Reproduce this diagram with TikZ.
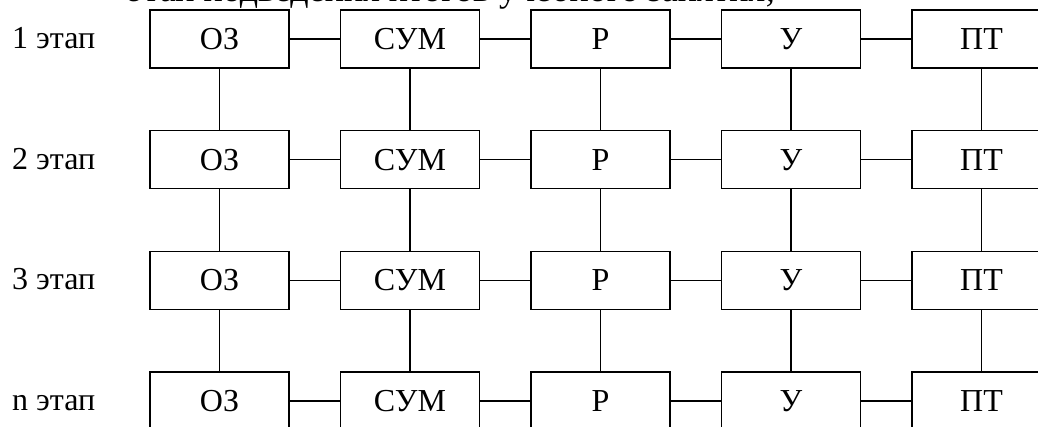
\documentclass[tikz,border=0pt]{standalone}
\usepackage{fontspec}
\setmainfont{Liberation Serif}
\usepackage{tikz}

\tikzset{
  blok/.style={draw, line width=1.5pt, minimum width=139pt, minimum height=58pt, inner sep=0pt},
  etap/.style={anchor=base west, inner sep=0pt},
  svyaz/.style={line width=1.5pt}
}

\begin{document}
\begin{tikzpicture}[x=1pt, y=-1pt, font=\fontsize{32}{36}\selectfont]

\clip (0,0) rectangle (1038,426);
\useasboundingbox (0,0) rectangle (1038,426);

% --- Title (cut at the top) ---
\node[anchor=base west, inner sep=0pt, font=\fontsize{36}{40}\selectfont] (zag) at (128,1) {этап подведения итогов учебного занятия;};

% --- Stage labels ---
\node[etap] (st1) at (12,48.5) {1 этап};
\node[etap] (st2) at (12,169.2) {2 этап};
\node[etap] (st3) at (12,289.8) {3 этап};
\node[etap] (st4) at (12,410.5) {n этап};

% --- Row 1 ---
\node[blok] (oz1) at (219.5,39) {ОЗ};
\node[blok] (sum1) at (410,39) {СУМ};
\node[blok] (r1) at (600.5,39) {Р};
\node[blok] (u1) at (791,39) {У};
\node[blok] (pt1) at (981.5,39) {ПТ};

% --- Row 2 ---
\node[blok] (oz2) at (219.5,159.7) {ОЗ};
\node[blok] (sum2) at (410,159.7) {СУМ};
\node[blok] (r2) at (600.5,159.7) {Р};
\node[blok] (u2) at (791,159.7) {У};
\node[blok] (pt2) at (981.5,159.7) {ПТ};

% --- Row 3 ---
\node[blok] (oz3) at (219.5,280.3) {ОЗ};
\node[blok] (sum3) at (410,280.3) {СУМ};
\node[blok] (r3) at (600.5,280.3) {Р};
\node[blok] (u3) at (791,280.3) {У};
\node[blok] (pt3) at (981.5,280.3) {ПТ};

% --- Row n ---
\node[blok] (oz4) at (219.5,401) {ОЗ};
\node[blok] (sum4) at (410,401) {СУМ};
\node[blok] (r4) at (600.5,401) {Р};
\node[blok] (u4) at (791,401) {У};
\node[blok] (pt4) at (981.5,401) {ПТ};

% horizontal links
\draw[svyaz] (oz1) -- (sum1) (sum1) -- (r1) (r1) -- (u1) (u1) -- (pt1)
(oz2) -- (sum2) (sum2) -- (r2) (r2) -- (u2) (u2) -- (pt2)
(oz3) -- (sum3) (sum3) -- (r3) (r3) -- (u3) (u3) -- (pt3)
(oz4) -- (sum4) (sum4) -- (r4) (r4) -- (u4) (u4) -- (pt4);

% vertical links
\draw[svyaz] (oz1) -- (oz2) (oz2) -- (oz3) (oz3) -- (oz4)
(sum1) -- (sum2) (sum2) -- (sum3) (sum3) -- (sum4)
(r1) -- (r2) (r2) -- (r3) (r3) -- (r4)
(u1) -- (u2) (u2) -- (u3) (u3) -- (u4)
(pt1) -- (pt2) (pt2) -- (pt3) (pt3) -- (pt4);

\end{tikzpicture}
\end{document}
